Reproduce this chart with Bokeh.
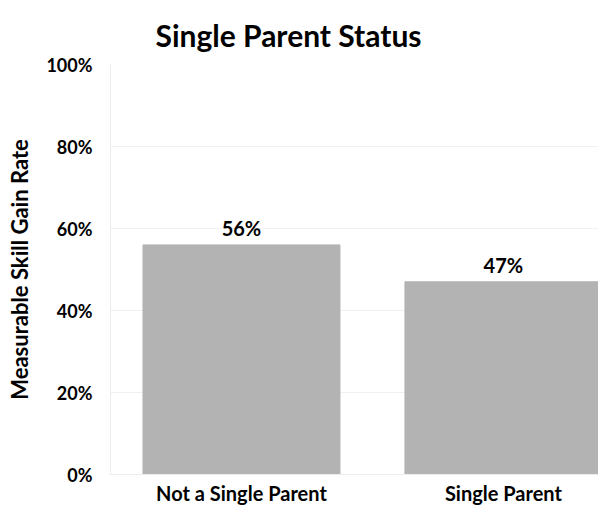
from bokeh.plotting import figure
from bokeh.models import ColumnDataSource, Range1d, FixedTicker, NumeralTickFormatter, LabelSet
from bokeh.core.properties import value
from bokeh.embed import file_html
from bokeh.resources import INLINE

title_text = "Single Parent Status"
categories = ["Not a Single Parent", "Single Parent"]
rates = [0.56, 0.47]
rate_labels = ["56%", "47%"]
y_ticks = [0, 0.2, 0.4, 0.6, 0.8, 1.0]

xpos = [i + 0.5 for i in range(len(categories))]
src = ColumnDataSource(dict(x=xpos, top=rates, label=rate_labels))

FONT = "Lato"

p = figure(width=598, height=507, output_backend="svg", toolbar_location=None,
           x_range=Range1d(0, 1.863), y_range=Range1d(0, 1),
           min_border_left=110, min_border_top=64, min_border_bottom=32, min_border_right=0,
           title=title_text)
p.outline_line_color = None
p.title.text_font = FONT
p.title.text_font_size = "30px"
p.title.text_font_style = "bold"
p.title.text_color = "#000000"
p.title.align = "left"
p.title.offset = 45
p.title.standoff = 24

p.vbar(x="x", top="top", width=0.752, bottom=0, source=src, color="#b3b3b3")

labels = LabelSet(x="x", y="top", text="label", source=src, text_align="center",
                  text_baseline="bottom", y_offset=5, text_font=value(FONT),
                  text_font_size="20px", text_font_style="bold", text_color="#000000")
p.add_layout(labels)

p.xaxis.ticker = FixedTicker(ticks=xpos)
p.xaxis.major_label_overrides = {x: c for x, c in zip(xpos, categories)}
p.yaxis.ticker = FixedTicker(ticks=y_ticks)
p.yaxis.formatter = NumeralTickFormatter(format="0%")
p.yaxis.axis_label = "Measurable Skill Gain Rate"

for ax in (p.xaxis, p.yaxis):
    ax.major_tick_line_color = None
    ax.minor_tick_line_color = None
    ax.axis_line_color = "#ececec"
    ax.major_label_text_font = FONT
    ax.major_label_text_font_style = "bold"
    ax.major_label_text_color = "#000000"
p.xaxis.major_label_text_font_size = "20px"
p.yaxis.major_label_text_font_size = "18px"
p.xaxis.major_label_standoff = 0
p.yaxis.major_label_standoff = 12
p.yaxis.axis_label_text_font = FONT
p.yaxis.axis_label_text_font_size = "22px"
p.yaxis.axis_label_text_font_style = "bold"
p.yaxis.axis_label_text_color = "#000000"
p.yaxis.axis_label_standoff = 10

p.xgrid.grid_line_color = None
p.ygrid.grid_line_color = "#f0f0f0"

open("out.html", "w").write(file_html(p, INLINE))
